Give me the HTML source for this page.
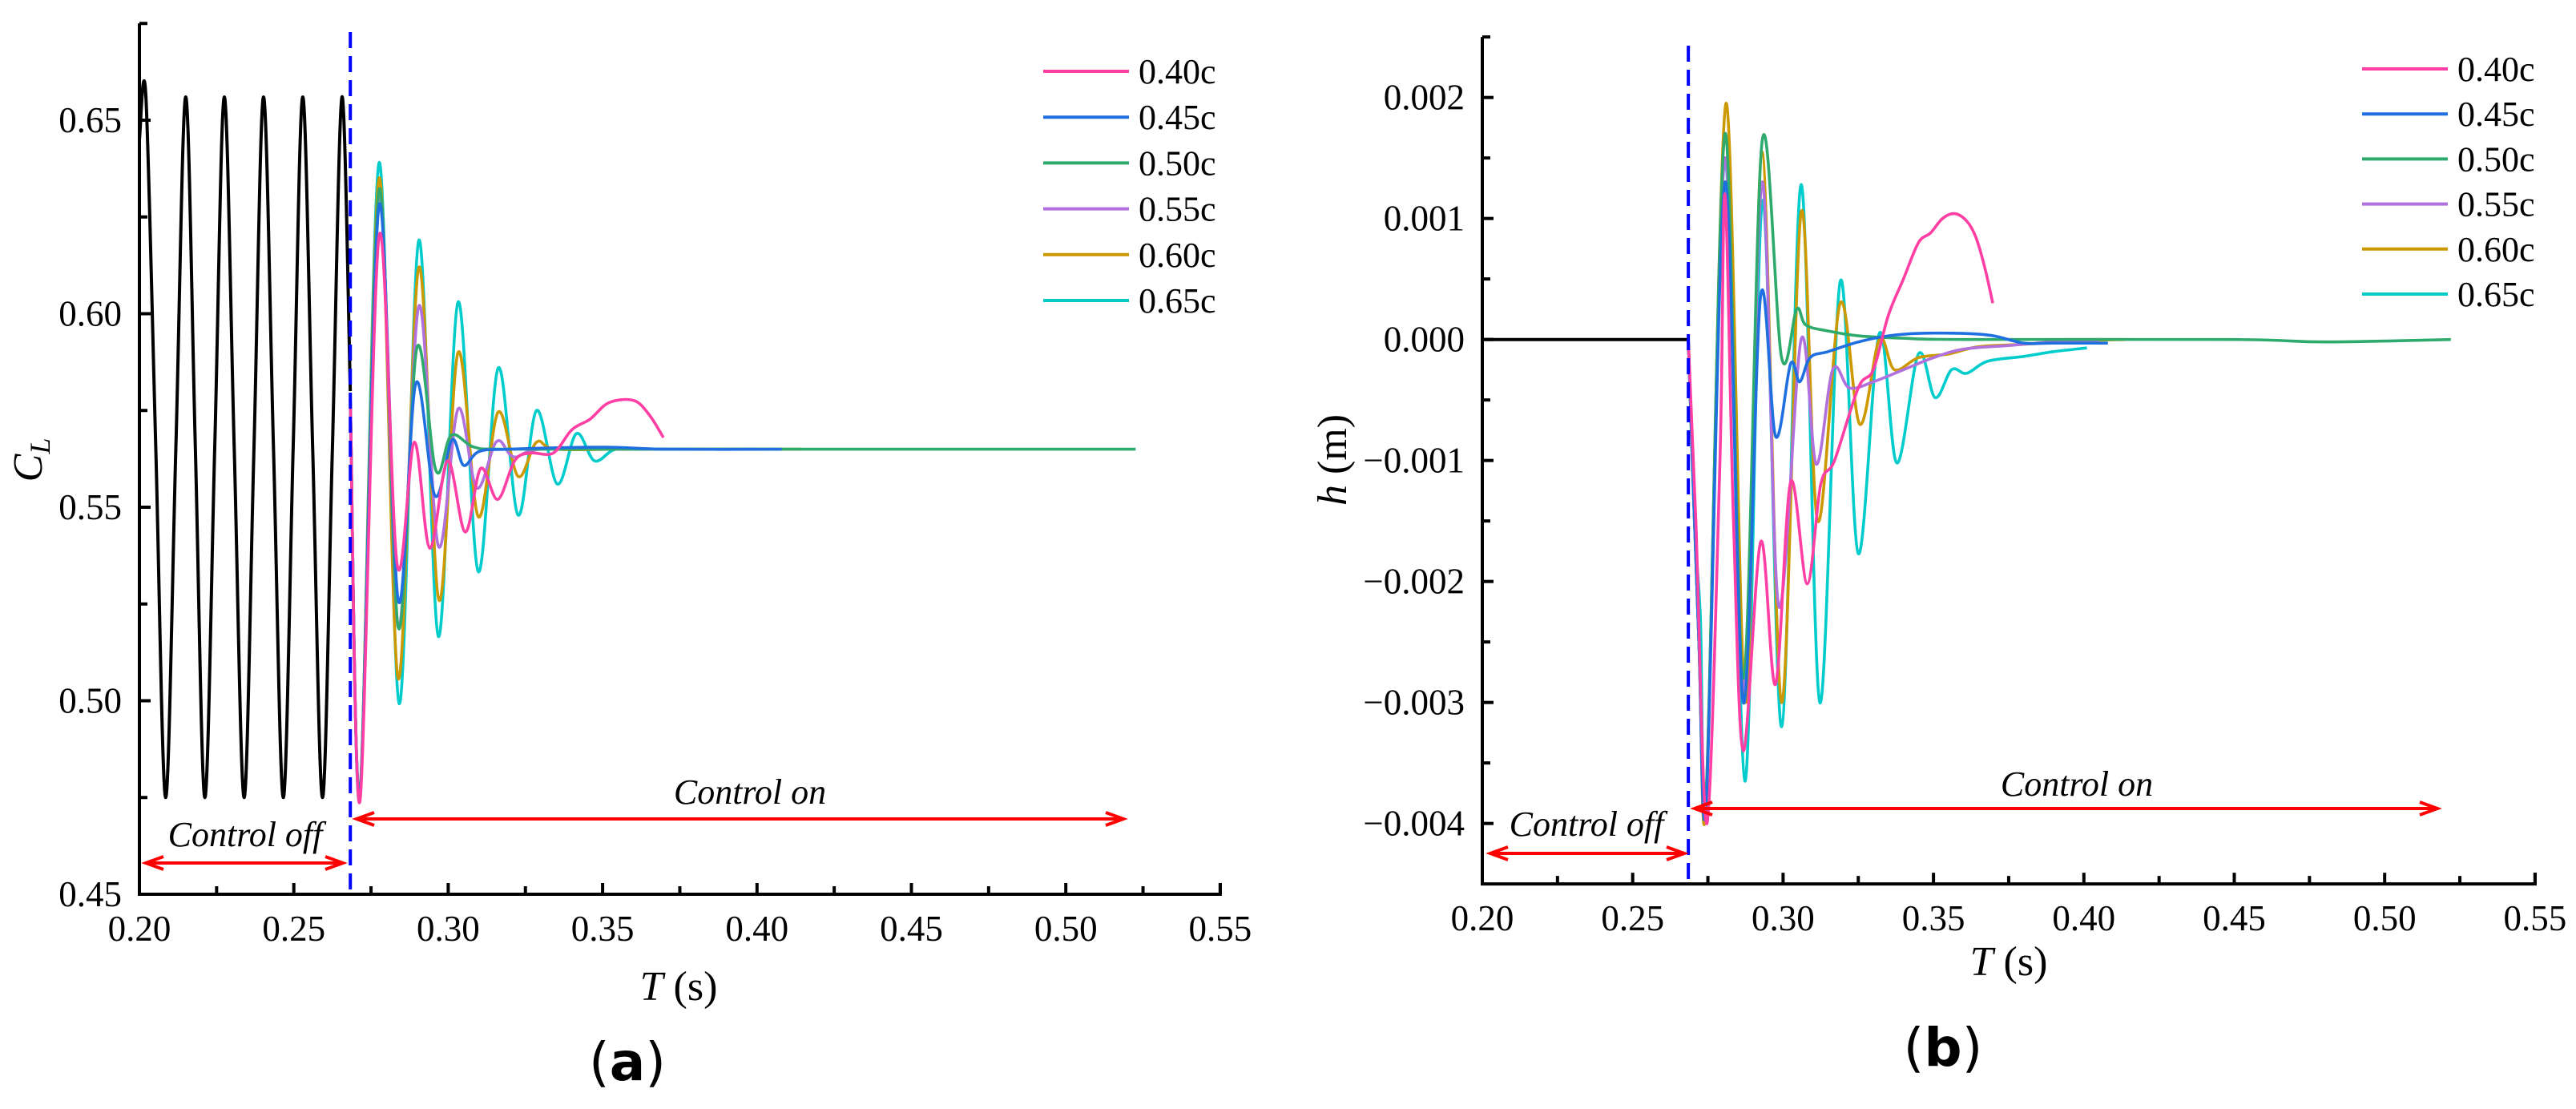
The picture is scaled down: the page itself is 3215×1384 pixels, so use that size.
<!DOCTYPE html>
<html><head><meta charset="utf-8"><style>
html,body{margin:0;padding:0;background:#fff;}
svg{display:block;font-family:"Liberation Serif",serif;}
</style></head><body>
<svg id="fig" width="3215" height="1384" viewBox="0 0 3215 1384" xmlns="http://www.w3.org/2000/svg">
<g id="pa"></g>
<g id="pb"></g>
</svg>
<script>
const seriesNames = ["0.40c","0.45c","0.50c","0.55c","0.60c","0.65c"];
const seriesColors = ["#ff3fa4","#1f6fe0","#2eaa6c","#b070dd","#cc9900","#00cccc"];
const xTicks = [0.20,0.25,0.30,0.35,0.40,0.45,0.50,0.55];
const aYTicks = [0.45,0.50,0.55,0.60,0.65];
const bYTicks = [-0.004,-0.003,-0.002,-0.001,0.000,0.001,0.002];
const bYTickLabels = ["\u22120.004","\u22120.003","\u22120.002","\u22120.001","0.000","0.001","0.002"];

// Panel a: C_L
const aBlackT = [0.2,0.2021,0.2053,0.2085,0.2118,0.2150,0.2181,0.2212,0.2244,0.2275,0.2307,0.2339,0.2371,0.2402,0.2434,0.2466,0.2498,0.2529,0.2561,0.2593,0.2625,0.2656,0.2683];
const aBlackV = [0.645,0.656,0.5655,0.475,0.5655,0.656,0.5655,0.475,0.5655,0.656,0.5655,0.475,0.5655,0.656,0.5655,0.475,0.5655,0.656,0.5655,0.475,0.5655,0.656,0.58];
const a40T = [0.2683,0.2714,0.2776,0.2835,0.2890,0.2940,0.2998,0.3055,0.3105,0.3160,0.3215,0.3265,0.334,0.340,0.346,0.352,0.360,0.365,0.3697];
const a40V = [0.578,0.474,0.620,0.535,0.5668,0.5394,0.562,0.5436,0.560,0.552,0.562,0.564,0.564,0.570,0.5728,0.577,0.5776,0.574,0.568];
const a45T = [0.2683,0.2714,0.2776,0.2838,0.2895,0.2957,0.3012,0.3050,0.3100,0.320,0.35,0.37,0.408];
const a45V = [0.578,0.475,0.628,0.526,0.582,0.553,0.5674,0.5608,0.5644,0.565,0.5655,0.565,0.565];
const a50T = [0.2683,0.2714,0.2776,0.2838,0.2898,0.2960,0.3010,0.3085,0.320,0.40,0.5226];
const a50V = [0.578,0.476,0.632,0.519,0.591,0.5595,0.5686,0.5655,0.565,0.565,0.565];
const a55T = [0.2683,0.2714,0.2776,0.2838,0.2905,0.2968,0.3032,0.3092,0.3157,0.3212,0.330,0.36,0.40];
const a55V = [0.578,0.476,0.631,0.519,0.602,0.540,0.5754,0.555,0.567,0.563,0.565,0.565,0.565];
const a60T = [0.2683,0.2714,0.2776,0.2838,0.2905,0.2970,0.3032,0.3097,0.3162,0.3226,0.3286,0.335,0.36,0.4144];
const a60V = [0.578,0.476,0.635,0.5057,0.612,0.526,0.590,0.5476,0.5746,0.558,0.5668,0.565,0.565,0.565];
const a65T = [0.2683,0.2714,0.2776,0.2841,0.2905,0.2968,0.3032,0.3097,0.3162,0.3226,0.3286,0.3353,0.3415,0.3473,0.3535,0.36,0.40];
const a65V = [0.578,0.4746,0.639,0.4993,0.619,0.5166,0.603,0.5334,0.586,0.548,0.575,0.556,0.569,0.562,0.5648,0.565,0.565];

// Panel b: h (m)
const bBlackT = [0.2,0.2685];
const bBlackV = [0,0];
const b40T = [0.2685,0.271,0.2747,0.2790,0.2807,0.2835,0.2868,0.2926,0.2975,0.3025,0.308,0.3125,0.3171,0.325,0.330,0.335,0.340,0.345,0.349,0.353,0.357,0.361,0.364,0.367,0.3697];
const b40V = [0,-0.0015,-0.0040,-0.001,0.0012,-0.0015,-0.0034,-0.00167,-0.00285,-0.00118,-0.00202,-0.0012,-0.001,-0.0004,-0.00025,0.0002,0.0005,0.0008,0.00088,0.001,0.00104,0.00098,0.00085,0.0006,0.0003];
const b45T = [0.2685,0.272,0.2745,0.2807,0.2868,0.2925,0.2975,0.3025,0.3055,0.309,0.315,0.325,0.335,0.345,0.36,0.37,0.38,0.39,0.408];
const b45V = [0,-0.0025,-0.0038,0.0013,-0.0030,0.00035,-0.0008,-0.0002,-0.00035,-0.00015,-0.0001,-0.00002,0.00003,0.00005,0.00005,0.00003,-0.00003,-0.00003,-0.00003];
const b50T = [0.2685,0.272,0.2745,0.2807,0.2868,0.2930,0.2995,0.3045,0.3075,0.315,0.325,0.34,0.36,0.45,0.48,0.522];
const b50V = [0,-0.0025,-0.0037,0.0017,-0.0028,0.00163,-0.00015,0.00025,0.00012,0.00007,0.00003,0.00001,0,0,-0.00002,0];
const b55T = [0.2685,0.272,0.2745,0.2807,0.2868,0.2930,0.2985,0.3060,0.3110,0.3165,0.322,0.330,0.340,0.350,0.36,0.375,0.39,0.405];
const b55V = [0,-0.0025,-0.0037,0.0015,-0.0029,0.0013,-0.0022,0,-0.00103,-0.00025,-0.0004,-0.00035,-0.00025,-0.00015,-0.00008,-0.00005,-0.00002,-0.00001];
const b60T = [0.2685,0.272,0.2745,0.2810,0.2875,0.2930,0.2995,0.3060,0.3115,0.3190,0.3255,0.3320,0.3370,0.345,0.355,0.365,0.38,0.40,0.414];
const b60V = [0,-0.0025,-0.0038,0.00195,-0.0030,0.00155,-0.0030,0.00105,-0.0015,0.0003,-0.0007,0,-0.00025,-0.00015,-0.00012,-0.00006,-0.00004,-0.00001,0];
const b65T = [0.2685,0.2705,0.2725,0.2744,0.2807,0.2873,0.2932,0.2995,0.3060,0.3122,0.3190,0.3250,0.3320,0.3378,0.345,0.3505,0.356,0.361,0.368,0.38,0.39,0.401];
const b65V = [0,-0.0015,-0.0023,-0.00386,0.0015,-0.00365,0.00115,-0.0032,0.00128,-0.0030,0.00048,-0.00177,0.00005,-0.00102,-0.00012,-0.00048,-0.00025,-0.00028,-0.00018,-0.00014,-0.0001,-0.00007];

const NS="http://www.w3.org/2000/svg";
function mk(parent,tag,attrs){const e=document.createElementNS(NS,tag);for(const k in attrs)e.setAttribute(k,attrs[k]);parent.appendChild(e);return e;}
function spline(pts){
  if(pts.length<3){return "M"+pts.map(p=>p[0].toFixed(1)+","+p[1].toFixed(1)).join("L");}
  let d="M"+pts[0][0].toFixed(1)+","+pts[0][1].toFixed(1);
  for(let i=0;i<pts.length-1;i++){
    const p0=pts[Math.max(0,i-1)],p1=pts[i],p2=pts[i+1],p3=pts[Math.min(pts.length-1,i+2)];
    const c1=[p1[0]+(p2[0]-p0[0])/6,p1[1]+(p2[1]-p0[1])/6];
    const c2=[p2[0]-(p3[0]-p1[0])/6,p2[1]-(p3[1]-p1[1])/6];
    c1[0]=Math.min(Math.max(c1[0],p1[0]),p2[0]);c2[0]=Math.min(Math.max(c2[0],p1[0]),p2[0]);
    d+="C"+c1[0].toFixed(1)+","+c1[1].toFixed(1)+" "+c2[0].toFixed(1)+","+c2[1].toFixed(1)+" "+p2[0].toFixed(1)+","+p2[1].toFixed(1);
  }
  return d;
}
function arrowH(g,x1,x2,y){
  const a=mk(g,"g",{});
  
  
  mk(a,"line",{x1:x1+4,y1:y,x2:x2-4,y2:y,stroke:"#ff0000","stroke-width":4});
  mk(a,"path",{d:`M${x1+22},${y-8} L${x1},${y} L${x1+22},${y+8}`,fill:"none",stroke:"#ff0000","stroke-width":4});
  mk(a,"path",{d:`M${x2-22},${y-8} L${x2},${y} L${x2-22},${y+8}`,fill:"none",stroke:"#ff0000","stroke-width":4});
}
function panel(g,cfg){
  const X=t=>cfg.x0+(t-0.2)/0.05*cfg.dx;
  const Y=v=>cfg.yRef+(cfg.vRef-v)/cfg.vStep*cfg.dy;
  const left=X(0.2),right=X(0.55),bottom=Y(cfg.yMin),top=Y(cfg.yMax);
  const sg=mk(g,"g",{});
  
  
  const bl=mk(sg,"path",{d:spline(cfg.black[0].map((t,i)=>[X(t),Y(cfg.black[1][i])])),fill:"none",stroke:"#000","stroke-width":4,"stroke-linejoin":"round"});
  
  
  for(let s=cfg.series.length-1;s>=0;s--){
    const ser=cfg.series[s];
    const p=mk(sg,"path",{d:spline(ser[0].map((t,i)=>[X(t),Y(ser[1][i])])),fill:"none",stroke:seriesColors[s],"stroke-width":3.6,"stroke-linejoin":"round"});
    
    
  }
  const dl=mk(g,"line",{x1:X(cfg.ctrlT),x2:X(cfg.ctrlT),y1:cfg.dashTop,y2:bottom,stroke:"#0000ff","stroke-width":4,"stroke-dasharray":"20,10"});
  
  
  const ax=mk(g,"path",{d:`M${left},${top} L${left},${bottom} L${right},${bottom} L${right},${bottom-14}`,fill:"none",stroke:"#000","stroke-width":4});
  
  
  for(let i=0;i<xTicks.length;i++){
    const x=X(xTicks[i]);
    mk(g,"line",{x1:x,x2:x,y1:bottom,y2:bottom-14,stroke:"#000","stroke-width":4});
    if(i<xTicks.length-1){const xm=X(xTicks[i]+0.025);mk(g,"line",{x1:xm,x2:xm,y1:bottom,y2:bottom-10,stroke:"#000","stroke-width":4});}
    const tx=mk(g,"text",{x:x,y:bottom+58,"font-size":45,"text-anchor":"middle"});
    tx.textContent=xTicks[i].toFixed(2);
    
    
  }
  for(let i=0;i<cfg.yTicks.length;i++){
    const y=Y(cfg.yTicks[i]);
    mk(g,"line",{x1:left,x2:left+14,y1:y,y2:y,stroke:"#000","stroke-width":4});
    const ym=Y(cfg.yTicks[i]+cfg.vStep/2);
    if(ym>=top-1) mk(g,"line",{x1:left,x2:left+10,y1:ym,y2:ym,stroke:"#000","stroke-width":4});
    const ty=mk(g,"text",{x:left-22,y:y+15,"font-size":45,"text-anchor":"end"});
    ty.textContent=cfg.yLabels[i];
    
    
  }
  for(let s=0;s<seriesNames.length;s++){
    const y=cfg.legY+s*cfg.legDy;
    const lg=mk(g,"g",{});
    
    
    mk(lg,"line",{x1:cfg.legX,x2:cfg.legX+107,y1:y,y2:y,stroke:seriesColors[s],"stroke-width":4});
    const t=mk(lg,"text",{x:cfg.legX+119,y:y+15,"font-size":44});
    t.textContent=seriesNames[s];
  }
  arrowH(g,cfg.offA[0],cfg.offA[1],cfg.offA[2]);
  arrowH(g,cfg.onA[0],cfg.onA[1],cfg.onA[2]);
  const t1=mk(g,"text",{x:cfg.offT[0],y:cfg.offT[1],"font-size":44,"font-style":"italic","text-anchor":"middle"});
  t1.textContent="Control off";
  
  
  const t2=mk(g,"text",{x:cfg.onT[0],y:cfg.onT[1],"font-size":44,"font-style":"italic","text-anchor":"middle"});
  t2.textContent="Control on";
  
  
  const xt=mk(g,"text",{x:cfg.xTitle[0],y:cfg.xTitle[1],"font-size":52,"text-anchor":"middle"});
  xt.innerHTML='<tspan font-style="italic">T</tspan> (s)';
  
  
  const yt=mk(g,"text",{x:0,y:0,"font-size":52,"text-anchor":"middle",transform:`translate(${cfg.yTitle[0]},${cfg.yTitle[1]}) rotate(-90)`});
  yt.innerHTML=cfg.yTitleHtml;
  
  
  const pl=mk(g,"text",{x:cfg.pLabel[0],y:cfg.pLabel[1],"font-size":66,"text-anchor":"middle","font-family":"DejaVu Sans, sans-serif"});
  pl.innerHTML=cfg.pText;
  
  
}
panel(document.getElementById("pa"),{
  x0:174,dx:192.7,yRef:1116,vRef:0.45,vStep:0.05,dy:241.5,yMin:0.45,yMax:0.675,
  yTicks:aYTicks,yLabels:aYTicks.map(v=>v.toFixed(2)),
  black:[aBlackT,aBlackV],series:[[a40T,a40V],[a45T,a45V],[a50T,a50V],[a55T,a55V],[a60T,a60V],[a65T,a65V]],
  ctrlT:0.2683,dashTop:40,legX:1302,legY:89,legDy:57.2,
  offA:[182,428,1077],onA:[445,1402,1022],offT:[306,1056],onT:[936,1003],
  xTitle:[847,1248],yTitle:[52,574],yTitleHtml:'<tspan font-style="italic">C</tspan><tspan font-style="italic" font-size="36" dy="10">L</tspan>',
  pLabel:[783,1348],pText:'(<tspan font-weight="bold">a</tspan>)'
});
panel(document.getElementById("pb"),{
  x0:1850,dx:187.7,yRef:480/1.133,vRef:0,vStep:0.001,dy:151,yMin:-0.0045,yMax:0.0025,
  yTicks:bYTicks,yLabels:bYTickLabels,
  black:[bBlackT,bBlackV],series:[[b40T,b40V],[b45T,b45V],[b50T,b50V],[b55T,b55V],[b60T,b60V],[b65T,b65V]],
  ctrlT:0.2685,dashTop:57,legX:2948,legY:86,legDy:56.2,
  offA:[1860,2102,1065],onA:[2115,3042,1009],offT:[1980,1043],onT:[2592,993],
  xTitle:[2507,1217],yTitle:[1680,574],yTitleHtml:'<tspan font-style="italic">h</tspan> (m)',
  pLabel:[2425,1330],pText:'(<tspan font-weight="bold">b</tspan>)'
});
</script>
</body></html>
